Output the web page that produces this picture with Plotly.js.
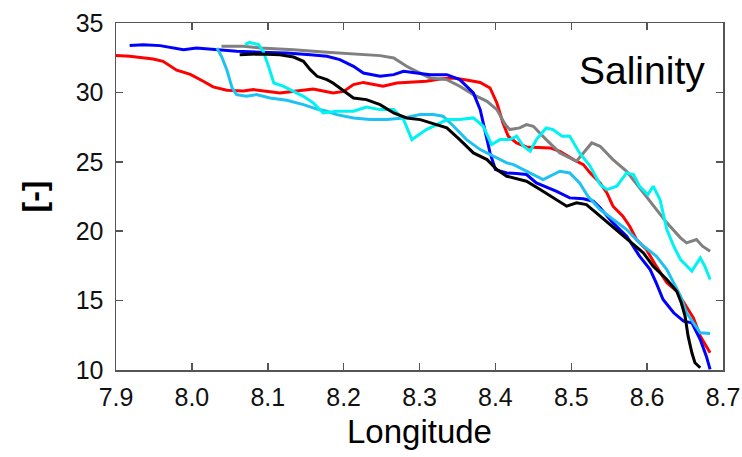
<!DOCTYPE html>
<html>
<head>
<meta charset="utf-8">
<script src="https://cdn.plot.ly/plotly-3.0.1.min.js"></script>
<style>
  html, body { margin: 0; padding: 0; background: #fff; }
  #chart { width: 742px; height: 457px; }
</style>
</head>
<body>
<div id="chart"></div>
<script>
// salinity transects (lon in deg E, salinity in psu)
const redLon = [7.900, 7.918, 7.949, 7.962, 7.980, 7.998, 8.015, 8.028, 8.046, 8.068, 8.081, 8.099, 8.116, 8.138, 8.160, 8.173, 8.186, 8.200, 8.213, 8.226, 8.239, 8.252, 8.270, 8.287, 8.309, 8.327, 8.345, 8.362, 8.380, 8.393, 8.402, 8.410, 8.417, 8.428, 8.441, 8.472, 8.485, 8.503, 8.516, 8.525, 8.538, 8.547, 8.555, 8.568, 8.577, 8.586, 8.599, 8.612, 8.626, 8.639, 8.652, 8.661, 8.670, 8.683];
const redSal = [32.65, 32.6, 32.4, 32.24, 31.6, 31.3, 30.8, 30.4, 30.15, 30.1, 30.2, 30.1, 29.96, 30.1, 30.25, 30.1, 29.96, 30.07, 30.56, 30.72, 30.6, 30.44, 30.68, 30.72, 30.8, 30.97, 31.04, 30.9, 30.72, 30.32, 29.24, 27.8, 26.84, 26.36, 26.07, 26.0, 25.76, 25.16, 24.8, 24.2, 23.48, 22.76, 21.8, 21.08, 20.36, 19.4, 18.68, 17.48, 16.28, 15.68, 14.6, 13.76, 12.44, 11.24];

const blueLon = [7.918, 7.936, 7.958, 7.980, 7.989, 8.006, 8.033, 8.059, 8.090, 8.125, 8.156, 8.178, 8.195, 8.213, 8.226, 8.248, 8.266, 8.279, 8.296, 8.314, 8.336, 8.353, 8.371, 8.380, 8.386, 8.393, 8.400, 8.415, 8.428, 8.441, 8.454, 8.480, 8.498, 8.516, 8.529, 8.538, 8.555, 8.573, 8.590, 8.604, 8.612, 8.621, 8.635, 8.648, 8.659, 8.670, 8.678, 8.683];
const blueSal = [33.37, 33.44, 33.37, 33.2, 33.08, 33.2, 33.08, 32.96, 32.9, 32.84, 32.72, 32.6, 32.36, 31.88, 31.4, 31.16, 31.28, 31.52, 31.4, 31.28, 31.28, 30.92, 29.96, 28.76, 27.32, 25.64, 24.44, 24.2, 24.15, 24.08, 23.48, 22.88, 22.4, 22.33, 22.16, 21.68, 20.6, 19.64, 18.2, 17.24, 16.28, 15.08, 14.12, 13.52, 13.4, 12.2, 11.0, 10.04];

const grayLon = [8.039, 8.068, 8.090, 8.134, 8.178, 8.213, 8.248, 8.266, 8.283, 8.296, 8.314, 8.336, 8.353, 8.371, 8.389, 8.402, 8.413, 8.419, 8.432, 8.441, 8.450, 8.467, 8.485, 8.507, 8.516, 8.527, 8.538, 8.555, 8.573, 8.590, 8.608, 8.626, 8.644, 8.652, 8.665, 8.673, 8.683];
const graySal = [33.32, 33.32, 33.2, 33.08, 32.9, 32.8, 32.65, 32.48, 31.88, 31.52, 31.04, 30.92, 30.44, 29.84, 29.36, 28.76, 27.68, 27.32, 27.44, 27.68, 27.56, 26.6, 25.64, 25.04, 25.64, 26.36, 26.12, 25.16, 24.32, 23.12, 21.8, 20.6, 19.52, 19.16, 19.4, 18.92, 18.56];

const skyLon = [8.033, 8.039, 8.046, 8.053, 8.059, 8.072, 8.085, 8.103, 8.125, 8.147, 8.165, 8.178, 8.191, 8.213, 8.235, 8.257, 8.279, 8.301, 8.318, 8.331, 8.345, 8.362, 8.380, 8.397, 8.415, 8.424, 8.441, 8.463, 8.485, 8.498, 8.511, 8.522, 8.538, 8.555, 8.573, 8.590, 8.612, 8.626, 8.635, 8.644, 8.652, 8.661, 8.670, 8.683];
const skySal = [33.2, 32.6, 31.64, 30.32, 29.84, 29.72, 29.84, 29.6, 29.43, 29.12, 28.8, 28.64, 28.4, 28.16, 28.04, 28.04, 28.16, 28.4, 28.4, 28.28, 27.56, 26.6, 25.88, 25.4, 24.92, 24.8, 24.32, 23.72, 24.32, 24.2, 23.48, 22.52, 21.56, 20.84, 20.12, 19.16, 18.2, 17.24, 16.28, 15.32, 14.12, 13.4, 12.68, 12.63];

const cyanLon = [8.070, 8.076, 8.088, 8.094, 8.101, 8.108, 8.121, 8.134, 8.147, 8.160, 8.173, 8.191, 8.213, 8.230, 8.248, 8.266, 8.279, 8.290, 8.309, 8.323, 8.336, 8.353, 8.371, 8.384, 8.395, 8.406, 8.419, 8.428, 8.437, 8.446, 8.454, 8.467, 8.476, 8.488, 8.498, 8.511, 8.525, 8.538, 8.547, 8.560, 8.573, 8.582, 8.590, 8.601, 8.608, 8.617, 8.626, 8.635, 8.644, 8.659, 8.670, 8.676, 8.683];
const cyanSal = [33.44, 33.6, 33.44, 32.96, 31.88, 30.68, 30.44, 30.08, 29.72, 29.24, 28.52, 28.64, 28.64, 28.95, 28.76, 28.76, 28.04, 26.6, 27.32, 27.68, 28.04, 28.04, 28.16, 27.56, 26.24, 26.6, 26.6, 26.84, 26.12, 25.76, 26.6, 27.44, 27.32, 26.84, 26.84, 25.64, 24.68, 23.36, 23.0, 23.24, 24.2, 24.08, 23.24, 22.64, 23.24, 22.28, 20.12, 18.92, 17.96, 17.12, 18.08, 17.48, 16.52];

const blackLon = [8.063, 8.090, 8.116, 8.134, 8.147, 8.156, 8.165, 8.178, 8.186, 8.204, 8.213, 8.230, 8.248, 8.266, 8.283, 8.301, 8.323, 8.336, 8.353, 8.371, 8.389, 8.402, 8.415, 8.432, 8.441, 8.459, 8.476, 8.494, 8.507, 8.520, 8.533, 8.551, 8.573, 8.595, 8.608, 8.626, 8.639, 8.645, 8.650, 8.654, 8.659, 8.663, 8.670];
const blackSal = [32.72, 32.77, 32.72, 32.55, 32.24, 31.64, 31.16, 30.92, 30.68, 29.96, 29.6, 29.48, 29.12, 28.52, 28.16, 28.04, 27.68, 27.44, 26.6, 25.64, 25.16, 24.44, 23.96, 23.72, 23.6, 23.0, 22.4, 21.8, 22.04, 21.92, 21.32, 20.48, 19.4, 18.44, 17.48, 16.52, 15.68, 14.84, 13.88, 12.44, 11.24, 10.52, 10.16];

const font = 'Liberation Sans, Arial, sans-serif';

function line(x, y, color) {
  return { x: x, y: y, type: 'scatter', mode: 'lines',
           line: { color: color, width: 3 }, hoverinfo: 'skip' };
}

const data = [
  line(redLon, redSal, '#ff0000'),
  line(grayLon, graySal, '#808080'),
  line(blueLon, blueSal, '#0000ff'),
  line(skyLon, skySal, '#1ec2f2'),
  line(cyanLon, cyanSal, '#00f2f2'),
  line(blackLon, blackSal, '#000000')
];

const axis = {
  showline: true, linecolor: '#555', linewidth: 1.5, mirror: 'ticks',
  ticks: 'inside', ticklen: 7, tickwidth: 1.5, tickcolor: '#555',
  showgrid: false, zeroline: false,
  tickfont: { family: font, size: 25, color: '#111' }
};

const layout = {
  width: 742, height: 457,
  margin: { l: 116, r: 19, t: 23, b: 87 },
  paper_bgcolor: '#fff', plot_bgcolor: '#fff',
  showlegend: false,
  xaxis: Object.assign({}, axis, {
    range: [7.9, 8.7], dtick: 0.1, tickformat: '.1f', ticklabelstandoff: 4,
    title: { text: 'Longitude', font: { family: font, size: 33, color: '#000' }, standoff: 10 }
  }),
  yaxis: Object.assign({}, axis, {
    range: [10, 35], dtick: 5, ticklabelstandoff: 6,
    title: { text: '<b>[-]</b>', font: { family: font, size: 32, color: '#000' }, standoff: 20 }
  }),
  annotations: [
    { text: 'Salinity', xref: 'paper', yref: 'y', x: 0.974, y: 31.6,
      xanchor: 'right', yanchor: 'middle', showarrow: false,
      font: { family: font, size: 39, color: '#000' } },
    // edge of the neighbouring panel's label, cut off by the crop
    { text: 'S', xref: 'paper', yref: 'y', x: 1.028, y: 22.1,
      xanchor: 'left', yanchor: 'middle', showarrow: false,
      font: { family: font, size: 30, color: '#000' } }
  ]
};

Plotly.newPlot('chart', data, layout, { staticPlot: true, displayModeBar: false });
</script>
</body>
</html>
